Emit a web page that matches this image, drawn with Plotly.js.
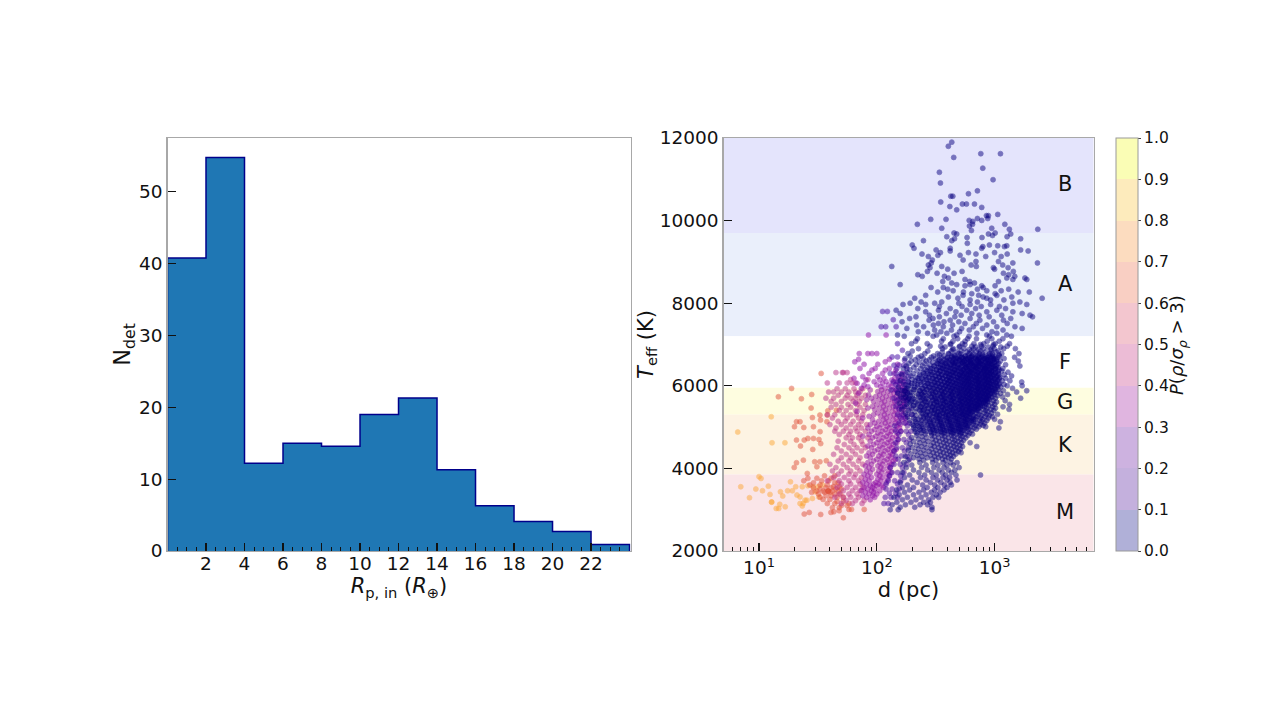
<!DOCTYPE html>
<html><head><meta charset="utf-8">
<script src="https://cdn.plot.ly/plotly-3.0.1.min.js"></script>
<style>html,body{margin:0;padding:0;background:#fff}#c{width:1279px;height:719px}</style>
</head><body><div id="c"></div>
<script>
// Left panel: histogram
const binStarts = [0,2,4,6,8,10,12,14,16,18,20,22];
const binCounts = [40.8,54.8,12.2,15,14.6,19,21.3,11.3,6.3,4.1,2.7,0.9];
const xTicksLeft = [2,4,6,8,10,12,14,16,18,20,22];
const yTicksLeft = [0,10,20,30,40,50];

// Right panel: spectral-type bands
const bandNames = ['B','A','F','G','K','M'];
const bandLow  = [9700,7200,5950,5300,3850,2000];
const bandHigh = [12000,9700,7200,5950,5300,3850];
const bandFill = ['#e4e4fc','#eaeffb','#ffffff','#fefde0','#fdf3e3','#fae5e8'];
const bandLabelT = [10886,8465,6576,5608,4566,2944];

// Right panel: points, [Teff, [d, d, ...]], by probability level
const pNavy = 0.02;
const navyRows = [
[11900,[433]],[11800,[405]],[11620,[764,1122]],[11530,[450]],[11270,[794]],[11170,[340]],[10990,[971]],[10910,[347]],
[10720,[715]],[10650,[600]],[10590,[425,442]],[10450,[349]],[10400,[533,577,675]],[10340,[417]],[10320,[778]],[10260,[477]],
[10150,[1064]],[10120,[887,853]],[10050,[715,875]],[10030,[287,387]],[10005,[609,778]],[9980,[653]],[9910,[221,650,1222]],[9870,[612]],[9815,[356,946]],[9790,[1335,2328]],[9760,[636]],
[9700,[453,1011]],[9675,[477,887,1371]],[9640,[960]],[9610,[393,1277]],[9590,[584,782]],[9560,[1665,457]],[9515,[249,433]],[9450,[587]],[9410,[200,904]],[9390,[1064,1270]],[9370,[795,1213]],
[9330,[207,420,778]],[9290,[319,1665]],[9265,[420,1928]],[9225,[347,600,1000]],[9190,[242,695,1280]],[9160,[330,509]],[9130,[274,841,1138]],[9045,[296,541]],[9010,[695,1079]],[8975,[290,1429,2312]],
[8925,[274,632,1172]],[8890,[134,356,700]],[8860,[283,977,1303]],[8825,[400,1000]],[8770,[269,530,1443]],[8725,[325,453,1189]],[8690,[223,1318]],[8650,[243,375,1484]],[8610,[405,1270,1810]],[8575,[561,1430,1877]],
[8525,[363,615,1079]],[8490,[433,675]],[8450,[158,477,620]],[8420,[561,778,1010]],[8380,[289,367,800]],[8340,[400,715,1318]],[8300,[445,859,1138]],[8270,[329,544,1585,1972]],[8230,[1011,640]],
[8190,[260,540,733,1045]],[8150,[405,800,1400]],[8120,[210,488,859,2535]],[8080,[620,925,1200]],[8030,[238,356,715,1640]],[8000,[192,310,497,1430]],[7970,[167,260,620,926,1877]],[7920,[340,530,770,1100]],
[7870,[223,420,690,1240]],[7830,[146,334,580,1045]],[7790,[260,470,859,1430]],[7750,[158,390,640,1715]],[7710,[280,520,740,1150,2000]],[7670,[215,340,460,900,2100]],[7630,[190,300,620,1371]],[7590,[278,420,750,1189]],[7550,[164,372,497,980]],
[7510,[334,560,700,1280]],[7470,[218,302,440,859]],[7430,[250,367,660,1045,1490]],[7390,[180,525,790,1715]],[7350,[310,430,610,1180]],[7310,[225,350,505,950]],[7270,[270,393,706,1045]],[7230,[150,323,477,859,1270]],
[7200,[171,301,452,607,905,1390]],[7140,[221,367,486,590,702,948,1177]],[7080,[214,355,443,562,866,1095]],[7020,[197,268,426,533,668,809,1012,1340]],
[6960,[283,349,507,642,775,968,1280]],[6900,[226,361,447,550,662,803,994,1195,1502]],[6840,[200,271,429,523,636,761,938,1075]],[6780,[184,256,328,405,498,610,745,912,1150,1610]],
[6720,[192,238,303,372,455,560,650,788,958,1100]],[6690,[225,290,352,433,526,628,737,875,1062,1480]],[6660,[174,248,316,389,476,571,693,815,980,1205]],[6630,[212,279,340,412,502,604,718,862,1040]],
[6600,[196,263,331,395,465,553,647,770,920,1118,1590]],[6570,[230,299,362,440,531,621,729,841,1005]],[6540,[187,254,325,381,458,540,632,752,898,1085]],[6510,[216,282,347,418,497,588,678,796,950,1240]],
[6480,[178,244,309,374,449,566,660,735,871,1030,1640]],[6450,[206,269,335,401,483,575,702,823,975]],[6420,[168,236,295,358,425,512,613,691,844,1016,1175]],[6390,[191,258,321,387,461,544,640,762,902,1090]],
[6360,[220,285,343,410,489,595,685,808,940,1150]],[6330,[181,247,307,369,437,520,618,725,860,1022,1300]],[6300,[203,272,329,392,470,558,652,778,915,1075]],[6270,[163,232,293,354,419,500,583,708,830,988,1210]],
[6240,[194,257,318,380,452,536,625,741,885,1048,1395]],[6210,[214,277,338,407,479,568,667,797,932,1112]],[6180,[174,240,301,365,431,513,601,699,838,1003,1240]],[6150,[199,264,326,394,466,549,638,754,891,1066]],
[6120,[158,226,287,350,416,494,580,684,814,958,1160,1350]],[6090,[186,250,312,376,443,527,616,728,866,1027,1700]],[6060,[210,273,335,402,474,555,645,767,905,1098]],[6030,[170,237,298,360,428,506,592,696,826,982,1205]],
[6000,[195,259,323,385,457,538,629,745,880,1045,1280,1715]],[5970,[153,221,283,346,412,487,573,671,801,935,1130]],[5940,[182,245,308,371,440,519,607,716,852,1010,1420]],[5910,[208,268,332,398,470,548,640,758,895,1075]],
[5880,[164,232,295,356,425,503,588,690,818,970,1190,1875]],[5850,[190,254,317,380,450,532,622,733,870,1030,1540]],[5820,[151,218,280,343,409,484,567,664,792,925,1120]],[5790,[176,241,305,366,436,514,600,705,842,998,1290]],
[5760,[201,263,328,391,463,544,633,749,886,1060]],[5730,[160,227,291,352,420,498,582,680,810,955,1170]],[5700,[186,249,313,375,447,528,615,726,858,1015,1665]],[5670,[211,275,337,404,476,556,648,764,900]],
[5640,[168,234,299,361,430,510,595,698,829,980,1230]],[5610,[194,258,322,386,455,537,626,740,875,1038]],[5580,[156,224,285,348,414,491,575,675,804,945]],[5550,[180,243,306,369,438,518,604,712,848,1002,1340]],
[5520,[205,267,330,396,468,546,637,755,890]],[5490,[172,236,296,358,426,505,590,688,822,965,1180]],[5460,[197,256,319,383,452,534,618,730,862,1020]],[5430,[163,229,288,351,418,495,578,678,800,930,1327]],
[5400,[186,248,310,373,444,525,610,720,840,985]],[5370,[210,272,334,400,472,552,642,750,880]],[5340,[175,238,300,362,432,512,598,695,815,945]],[5310,[198,261,324,388,458,540,628,735,855,1060]],
[5280,[215,278,342,410,484,565,660,772,905]],[5250,[182,250,314,378,448,530,612,708,828,960]],[5220,[206,270,336,405,478,558,650,762,885]],[5190,[226,292,354,422,500,585,682,795,1000]],
[5160,[190,262,326,393,465,550,638,745,860]],[5130,[213,284,346,416,490,572,665,778,1120]],[5100,[235,300,368,440,520,605,710,825]],[5070,[200,270,338,408,482,562,655,760]],
[5040,[222,290,356,428,505,592,690,800]],[5010,[245,312,380,454,535,625,735,840]],[4980,[206,278,345,418,492,575,670,1088]],[4950,[232,298,365,436,515,602,700]],
[4920,[252,320,390,462,548,640]],[4890,[212,285,352,425,500,585]],[4860,[238,305,372,445,525,615]],[4830,[258,328,398,475,560,650]],[4800,[218,290,358,432,510,595]],[4770,[242,310,378,452,532]],
[4740,[198,264,335,405,485,570]],[4710,[225,295,362,438,515]],[4680,[248,318,385,460,545]],[4650,[205,272,342,412,490]],[4620,[232,302,370,445,525,620]],[4590,[192,256,326,395,472]],
[4560,[218,288,352,425,505]],[4530,[240,308,378,452,535,706]],[4500,[200,265,335,402,480]],[4470,[225,292,358,432,512]],[4440,[185,250,318,388,465]],[4410,[212,278,345,415,495]],
[4380,[235,302,368,440,520]],[4350,[195,258,325,395,470]],[4320,[220,285,350,422]],[4290,[175,242,310,378,448]],[4260,[205,268,335,405]],[4230,[228,295,360,430]],[4200,[185,250,318,385]],
[4140,[170,232,298,365,425,480]],[4080,[198,262,330,395,445]],[4020,[178,240,305,372,500]],[3960,[205,270,338,405,460]],[3900,[165,228,292,360,430]],[3840,[190,255,320,385,470,760]],
[3780,[172,235,300,365,415]],[3720,[200,262,328,395,480]],[3660,[158,220,285,350,420]],[3600,[182,245,310,375,430]],[3540,[165,205,268,330,395]],[3480,[148,190,250,310,372]],
[3420,[172,228,290,345]],[3360,[155,205,262,320]],[3300,[140,182,238,300,335]],[3240,[165,215,275]],[3180,[148,195,250,285]],[3120,[135,175,233,270]],[3060,[158,210,294]],[3000,[130,152,294]]
];
// the solid core of the cloud, second pass
const navyCoreRows = [
[6715,[432,505,566,640,722,810,905,992]],[6685,[398,470,528,612,688,776,860,955]],[6655,[450,490,545,590,668,745,835,930,1010]],[6625,[372,425,512,575,634,705,790,884,972]],
[6595,[352,441,498,552,623,716,768,845,938,1042]],[6565,[410,468,536,598,660,738,822,905,996]],[6535,[330,386,452,515,582,645,692,760,872,955]],[6505,[362,428,486,560,618,708,784,848,924,1052]],
[6475,[305,394,462,528,602,672,726,812,898,990]],[6445,[345,416,508,570,636,694,772,862,948,1075]],[6415,[285,366,440,492,556,626,710,788,834,925,1020]],[6385,[322,378,458,534,590,658,744,818,894,985]],
[6355,[268,346,424,478,546,608,676,760,852,938,1068]],[6325,[298,390,446,520,572,642,718,796,880,962]],[6295,[250,336,405,468,530,600,664,735,824,902,1012]],[6265,[282,358,432,504,556,622,698,772,858,946,1088]],
[6235,[232,312,384,448,514,586,650,722,806,872,978]],[6205,[262,340,412,486,540,608,682,748,832,920,1040]],[6175,[224,296,362,426,498,568,630,710,780,862,952,1102]],[6145,[248,318,392,454,524,592,668,736,820,898,1008]],
[6115,[212,276,348,410,476,552,612,692,758,846,936,1060]],[6085,[236,306,374,438,510,576,648,722,796,880,975]],[6055,[198,268,328,396,462,532,600,674,742,828,918,1030]],[6025,[222,290,356,418,488,560,624,708,776,852,945,1090]],
[5995,[186,256,314,382,444,516,582,656,730,804,892,1000]],[5965,[210,278,342,404,472,544,610,686,752,836,926,1054]],[5935,[178,242,300,366,434,500,566,634,716,788,866,962]],[5905,[204,264,326,392,456,526,596,668,738,818,910,1020]],
[5875,[172,232,288,352,420,484,554,620,698,770,844,938]],[5845,[196,252,316,378,442,510,580,650,726,796,884,990]],[5815,[182,240,298,362,428,496,562,630,708,776,858,950]],[5785,[168,226,276,340,404,468,538,606,678,754,826,905]],
[5755,[192,250,310,372,436,506,572,640,716,790,872]],[5725,[176,234,290,350,414,482,550,618,694,762,840,930]],[5695,[204,262,324,386,450,522,588,660,736,808,888]],[5665,[184,242,300,364,428,498,564,632,708,780,852]],
[5635,[198,256,318,376,442,512,578,646,722,794,866]],[5605,[212,270,332,394,460,530,596,668,742,812]],[5575,[190,246,306,368,430,500,566,636,704,770,838]],[5545,[222,282,344,408,474,544,612,682,750]],
[5515,[204,262,322,384,452,520,584,652,720,790]],[5485,[238,296,358,420,488,556,626,692,760]],[5455,[216,274,334,398,464,532,600,666,730]],[5425,[252,312,372,436,502,570,638,704]],
[5395,[232,292,350,414,480,548,614,676]],[5365,[268,328,390,452,520,586,650]],[5335,[246,306,366,430,496,560,622]],[5305,[284,344,406,470,534,596]],[5275,[262,324,384,448,512,574]]
];
// the shoulders just above and below the core
const navyEdgeRows = [
[7000,[420,560,760,980]],[6940,[380,500,690,880,1130]],[6880,[440,610,730,930]],[6820,[360,480,580,700,840,1030]],[6770,[410,520,660,790,960]],[6745,[340,455,600,725,890,1090]],
[5245,[236,298,360,430,505,590,690]],[5215,[250,322,390,462,540,625]],[5185,[212,280,344,412,488,570,660]],[5155,[238,305,372,445,522,605]],[5125,[258,330,398,470,548,635]],
[5095,[218,286,352,424,498,580]],[5065,[242,312,380,456,532]],[5035,[205,270,340,410,486,565]],[5005,[228,298,362,436,512,590]],[4975,[250,320,392,468,548]],
[4945,[212,282,348,420,495]],[4915,[236,306,375,448,530]],[4885,[262,332,404,480]],[4855,[220,292,360,434,512]]
];
const pViolet = 0.13;
const violetRows = [
[7800,[112,123]],[7600,[138]],[7430,[109,119,146]],[7020,[150]],[6860,[165]],[6700,[135,150]],[6620,[172]],[6500,[140,155,170]],[6420,[148,180]],[6300,[130,145,160,175]],[6220,[152,186]],
[6100,[138,152,168,185]],[6030,[145,176]],[5900,[132,146,160,175]],[5830,[150,182]],[5700,[140,155,170,188]],[5630,[148,178]],[5500,[145,160,178]],[5430,[155,190]],[5300,[150,165,182,200]],[5220,[160,176]],
[5100,[155,172,190]],[5030,[142,182]],[4900,[145,160,178,195]],[4820,[154,186]],[4700,[152,170,190]],[4620,[144,178]],[4500,[148,165,185]],[4420,[140,172]],[4300,[145,162,180]],[4220,[152,190]],
[4100,[140,158,178]],[4020,[130,165]],[3900,[135,150,170]],[3820,[128,160]],[3700,[125,142,160]],[3620,[120,150]],[3500,[120,135,155]],[3400,[128,145]],[3300,[118,132,150]],[3150,[115,125]]
];
const pPurple = 0.28;
const purpleRows = [
[7230,[85,120]],[6780,[71,84,91,100]],[6640,[70,128]],[6580,[65,118]],[6520,[78,102,150]],[6420,[72,97,128]],[6380,[91,118,145]],
[6300,[86,112,140,165]],[6220,[76,102,156]],[6180,[64,115,142,170]],[6140,[81,106,134,160]],[6100,[95,120,148]],[6060,[68,112,138,168]],[6020,[78,100,126,155]],
[5980,[84,108,132,160]],[5940,[74,118,145,172]],[5900,[88,110,136,165]],[5860,[102,124,150,176]],[5820,[70,114,140,168]],[5780,[85,106,130,158]],[5740,[98,120,146,174]],[5700,[90,112,136,162]],
[5660,[82,104,126,152,178]],[5620,[94,116,142,170]],[5580,[66,110,134,160]],[5540,[100,122,148,172]],[5500,[92,114,138,165]],[5460,[84,106,128,154]],[5420,[96,118,144,170]],[5380,[68,112,136,162]],
[5340,[102,124,150]],[5300,[94,116,140,168]],[5260,[86,108,130,156]],[5220,[76,120,146,174]],[5180,[92,114,138,164]],[5140,[104,126,152]],[5100,[96,118,144,176]],[5060,[88,110,132,158]],
[5020,[100,122,148]],[4980,[84,106,128,156]],[4940,[96,118,142]],[4900,[90,112,134,160]],[4860,[102,124,150]],[4820,[86,108,130]],[4780,[76,98,120,146]],[4740,[92,114,136]],[4700,[104,126,152]],
[4660,[88,110,132]],[4620,[100,122,148]],[4580,[94,116,138]],[4540,[84,106,128]],[4500,[90,112,134]],[4460,[102,124,146]],[4420,[96,118,140]],[4380,[86,108,130]],[4340,[92,114,136]],[4300,[82,104,126]],
[4260,[88,110,132]],[4220,[100,122,144]],[4180,[94,116,138]],[4140,[84,106,128]],[4100,[90,112,134]],[4060,[80,102,124]],[4020,[86,108,130]],[3980,[92,114]],[3940,[82,104,126]],[3900,[88,110,132]],
[3860,[78,100,122]],[3820,[84,106,128]],[3780,[90,112]],[3740,[80,102,124]],[3700,[86,108]],[3660,[76,98,120]],[3620,[82,94,104]],[3580,[88,100,110]],[3540,[78,92,114]],[3500,[84,96]],[3460,[74,90,106]],
[3420,[80,94]],[3380,[86,100]],[3340,[76,92]],[3300,[82,96]],[3240,[88]]
];
const pMagenta = 0.4;
const magentaRows = [
[6320,[45,51,52,56]],[6150,[60,84]],[6070,[38,48,56,62,66]],[5930,[46,54,64,76]],[5850,[39,43,50,58,66,72]],[5770,[47,56,68,80]],[5700,[37,43,54,60,66,74]],[5620,[41,50,63,71]],[5550,[45,57,68,80]],
[5480,[41,50,60,72]],[5400,[48,55,66,78]],[5300,[38,44,52,60,67,76]],[5220,[42,56,70]],[5140,[47,54,63,74]],[5060,[40,50,60,70,82]],[4980,[45,55,66,74]],[4900,[44,52,60,68,80]],[4820,[48,58,72]],
[4740,[55,62,70,84]],[4660,[47,60,74]],[4580,[53,64,76]],[4500,[46,58,68,80]],[4420,[50,62,74]],[4340,[43,55,66]],[4260,[50,60,72]],[4180,[47,58,70]],[4100,[40,52,63,76]],[4020,[45,56,68]],
[3940,[42,50,60,72]],[3860,[47,58,66]],[3780,[43,53,64,74]],[3700,[38,48,58,70]],[3620,[50,60,72]],[3540,[46,56,66,76]],[3460,[52,62,72]],[3380,[48,58,68]],[3300,[44,52,60,70]],[3220,[55,66,78]],[3150,[50,62,75]]
];
const pCoral = 0.6;
const coralRows = [
[6300,[33.7]],[5936,[18.9]],[5734,[14.6]],[5790,[28]],[5686,[22.9]],[5460,[27.7]],[5410,[45.4]],[5395,[38.4]],[5290,[32.9,38]],
[5230,[28.4]],[5170,[33.3]],[5130,[20.8,22.3,37.7]],[5010,[20,29]],[4990,[24]],[4890,[33]],[4725,[26,29]],[4700,[32.3]],
[4685,[20.8,24.2]],[4600,[33.4]],[4540,[22.5]],[4460,[28.6]],[4200,[23.8]],[4185,[37.3]],[4160,[29.7,32.9]],[4137,[20.8]],
[4040,[31]],[4024,[19.9]],[3878,[25.7]],[3820,[36,44]],[3760,[26,31,41]],[3700,[24,34,39]],[3650,[29,44,47]],[3600,[27,33,38]],[3560,[43,48]],
[3530,[29,37,41]],[3500,[33,45,50]],[3450,[31,35,38.6,38.6,38.6,42,47]],[3420,[28,36,40]],[3380,[32,44,49]],[3340,[37,41]],[3300,[33,46,52]],
[3250,[35,40]],[3200,[46,52]],[3150,[38,44,58]],[3100,[50,56]],[3050,[42,48]],[3007,[58,61,78.2]],[2975,[47.9]],[2950,[43.2]],
[2934,[26.7,40.8]],[2893,[24.2]],[2885,[33.4]],[2805,[52]]
];
const pOrange = 0.82;
const orangeRows = [
[5250,[12.7]],[4880,[6.6]],[4620,[12.9,16.6]],[3800,[10]],[3757,[10.4]],[3675,[18.5]],[3600,[34.5]],[3580,[26]],
[3570,[12]],[3555,[7,20.5,23.3,28.8,31.7]],[3500,[9.4]],[3458,[10.7,17.5,19.2]],[3434,[15.2,30]],[3370,[12.4]],
[3355,[21]],[3330,[15.9]],[3310,[22.3,32.2]],[3290,[8.3]],[3273,[28.4]],[3230,[24.6,25.5]],[3184,[12.8,12.8]],
[3150,[22.3,23.7]],[3130,[15]],[3090,[23.3]],[3070,[16.7]],[3030,[14,14.7]]
];

const cbTicks = [0,0.1,0.2,0.3,0.4,0.5,0.6,0.7,0.8,0.9,1];
const cbColors = ['#b0b0d8','#c4b0dd','#cdb2e0','#e0b5e0','#ecbcd6','#f3c6cf','#f9cfc3','#fcdcbf','#fdebbc','#fafdb5'];
const rightXTicks = [10,100,1000];
const rightXTickText = ['10<sup>1</sup>','10<sup>2</sup>','10<sup>3</sup>'];
const rightXMinor = [6,7,8,9,20,30,40,50,60,70,80,90,200,300,400,500,600,700,800,900,2000,3000,4000,5000,6000];
const rightYTicks = [2000,4000,6000,8000,10000,12000];

const FONT = 'DejaVu Sans, sans-serif';
const W = 1279, H = 719;
const fx = p => p / W, fy = p => 1 - p / H;

// flatten the rows
const groups = [[orangeRows,pOrange],[coralRows,pCoral],[magentaRows,pMagenta],[purpleRows,pPurple],[violetRows,pViolet],[navyRows,pNavy],[navyCoreRows,pNavy],[navyEdgeRows,pNavy]];
const ptD = [], ptT = [], ptP = [];
groups.forEach(([rows,p]) => rows.forEach(([t,ds]) => ds.forEach(d => { ptD.push(d); ptT.push(t); ptP.push(p); })));

// discrete colour bar scale
const cbScale = [];
cbColors.forEach((c,i) => { cbScale.push([i/cbColors.length,c]); cbScale.push([(i+1)/cbColors.length,c]); });
const pointScale = [[0,'#00007a'],[0.13,'#3c02a0'],[0.28,'#8b0aa5'],[0.4,'#b83289'],[0.6,'#e0503a'],[0.82,'#fca636'],[1,'#f0f921']];

const traces = [
 {type:'bar', x:binStarts.map(b=>b+1), y:binCounts, width:binStarts.map(()=>2), xaxis:'x', yaxis:'y',
  marker:{color:'#1f77b4', line:{width:0}}, showlegend:false},
 {type:'scatter', mode:'lines', xaxis:'x', yaxis:'y', showlegend:false, fill:'tozeroy', fillcolor:'#1f77b4',
  x:[0,...binStarts,24,24], y:[0,...binCounts,binCounts[binCounts.length-1],0],
  line:{shape:'hv',color:'#00008b',width:1.5}},
 {type:'scatter', mode:'markers', xaxis:'x2', yaxis:'y2', showlegend:false, x:ptD, y:ptT,
  marker:{size:5, opacity:0.5, color:ptP, cmin:0, cmax:1, colorscale:pointScale,
   line:{width:0.7, color:ptP, cmin:0, cmax:1, colorscale:pointScale}}},
 {type:'scatter', mode:'markers', xaxis:'x2', yaxis:'y2', showlegend:false, x:[100,100], y:[4000,4000], hoverinfo:'skip',
  marker:{size:1, opacity:0, color:[0,1], cmin:0, cmax:1, colorscale:cbScale, showscale:true,
   colorbar:{x:fx(1116), xref:'paper', xanchor:'left', y:fy(551), yref:'paper', yanchor:'bottom', len:413/H, lenmode:'fraction',
    thickness:22, thicknessmode:'pixels', xpad:0, ypad:0, tickmode:'array', tickvals:cbTicks, ticktext:cbTicks.map(v=>v.toFixed(1)),
    ticks:'outside', ticklen:3, tickcolor:'#444', tickfont:{family:FONT,size:15.5,color:'#111'},
    outlinecolor:'#9a9a9a', outlinewidth:1}}}
];

const axisCommon = {showgrid:false, zeroline:false, showline:true, mirror:true, linecolor:'#a8a8a8', linewidth:1.2,
  ticks:'inside', tickcolor:'#111', tickwidth:1.2, tickfont:{family:FONT,size:18.5,color:'#111'}};

const shapes = bandNames.map((n,i)=>({type:'rect', xref:'x2 domain', yref:'y2', x0:0, x1:1, y0:bandLow[i], y1:bandHigh[i],
  fillcolor:bandFill[i], line:{width:0}, layer:'below'}));

const annotations = bandNames.map((n,i)=>({xref:'paper', yref:'y2', x:fx(1065), xanchor:'center', y:bandLabelT[i], text:n, showarrow:false,
  font:{family:FONT,size:21,color:'#111'}}));
annotations.push({xref:'paper', yref:'paper', x:fx(1178), xanchor:'center', y:fy(345), yanchor:'middle', text:'<i>P</i>(<i>ρ</i>/<i>σ</i><sub><i>ρ</i></sub> &gt; 3)', textangle:-90,
  showarrow:false, font:{family:FONT,size:18,color:'#111'}});

const layout = {
 width:W, height:H, margin:{l:0,r:0,t:0,b:0}, paper_bgcolor:'#fff', plot_bgcolor:'rgba(0,0,0,0)', showlegend:false, bargap:0,
 xaxis:{...axisCommon, domain:[fx(167.5),fx(630.5)], anchor:'y', range:[0,24.05], tickmode:'array', tickvals:xTicksLeft, ticklen:8, ticklabelstandoff:-4,
   minor:{ticks:'inside', dtick:0.5, ticklen:4, tickcolor:'#111', tickwidth:1, showgrid:false},
   title:{text:'<i>R</i><sub>p, in</sub> (<i>R</i><sub>⊕</sub>)', font:{family:FONT,size:21,color:'#111'}, standoff:2}},
 yaxis:{...axisCommon, domain:[fy(551),fy(138)], anchor:'x', range:[0,57.5], tickmode:'array', tickvals:yTicksLeft, ticklen:8,
   title:{text:'N<sub>det</sub>', font:{family:FONT,size:22.5,color:'#111'}, standoff:0}},
 xaxis2:{...axisCommon, type:'log', domain:[fx(723.5),fx(1093.5)], anchor:'y2', range:[0.6985,3.84], tickmode:'array', tickvals:rightXTicks, ticktext:rightXTickText, ticklen:8,
   minor:{ticks:'inside', tickmode:'array', tickvals:rightXMinor, ticklen:4, tickcolor:'#111', tickwidth:1, showgrid:false},
   title:{text:'d (pc)', font:{family:FONT,size:21,color:'#111'}, standoff:0}},
 yaxis2:{...axisCommon, domain:[fy(551),fy(138)], anchor:'x2', range:[2000,12000], tickmode:'array', tickvals:rightYTicks, ticktext:rightYTicks.map(String), ticklen:8,
   title:{text:'<i>T</i><sub>eff</sub> (K)', font:{family:FONT,size:21,color:'#111'}, standoff:0}},
 shapes, annotations
};
Plotly.newPlot('c', traces, layout, {displayModeBar:false, staticPlot:true});
</script>
</body></html>
